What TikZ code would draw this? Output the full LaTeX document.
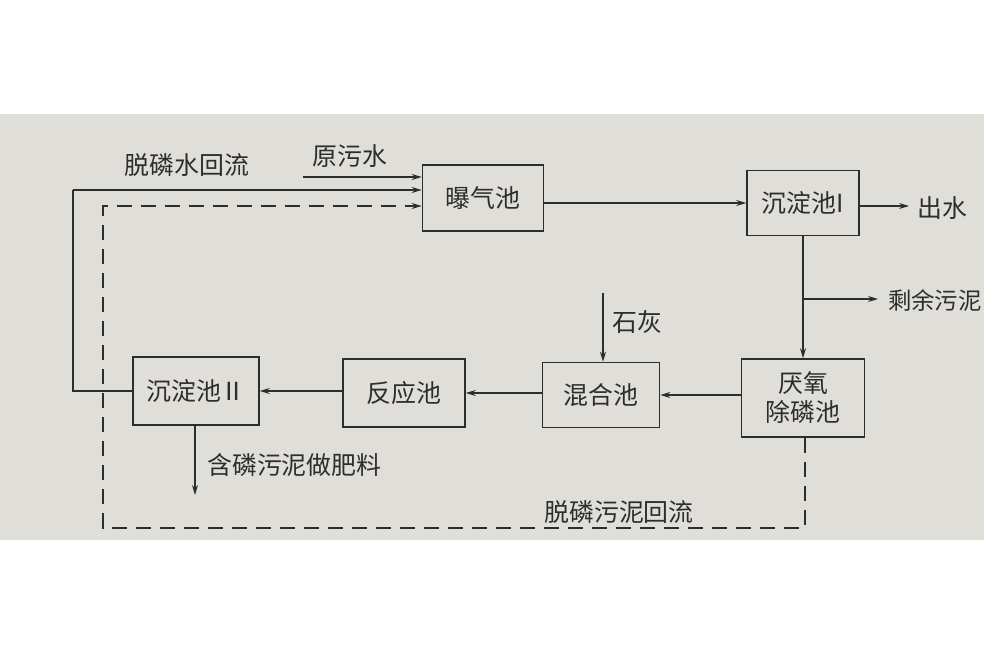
\documentclass[tikz,border=0pt]{standalone}
\usepackage{fontspec}
\setmainfont{Noto Sans CJK SC}
\usetikzlibrary{arrows.meta}
\definecolor{paper}{RGB}{224,222,217}
\definecolor{ink}{RGB}{45,45,45}
\tikzset{
  pbox/.style={draw=ink, line width=1.6pt, minimum height=66bp, inner sep=0pt, font=\fontsize{25}{29}\selectfont, text=ink},
  lbl/.style={font=\fontsize{25}{29}\selectfont, text=ink, inner sep=0pt},
  flow/.style={draw=ink, line width=1.1pt, -{Stealth[length=10bp,width=6bp]}},
  plain/.style={draw=ink, line width=1.1pt},
  dline/.style={draw=ink, line width=1.3pt, dash pattern=on 15bp off 9bp}
}
\begin{document}
\begin{tikzpicture}[x=1bp,y=-1bp]
\useasboundingbox (0,0) rectangle (984,656);
\clip (0,0) rectangle (984,656);
\fill[paper] (0,114) rectangle (984,540);
% boxes
\node[pbox, minimum width=121bp] (bq) at (483,198) {曝气池};
\node[pbox, minimum width=112bp, minimum height=65bp] (cd1) at (803,203) {沉淀池I};
\node[pbox, minimum width=123bp, minimum height=78bp, align=center] (yy) at (803,398) {厌氧\\除磷池};
\node[pbox, minimum width=117bp, minimum height=65bp] (hh) at (601,395) {混合池};
\node[pbox, minimum width=122bp, minimum height=68bp] (fy) at (404,393) {反应池};
\node[pbox, minimum width=126bp, minimum height=68bp] (cd2) at (196,391) {沉淀池Ⅱ};
% labels
\node[lbl] (ysw) at (350,156) {原污水};
\node[lbl] (tlh) at (187,165) {脱磷水回流};
\node[lbl, anchor=west] (cs) at (917,208) {出水};
\node[lbl, anchor=east, font=\fontsize{23.5}{27}\selectfont] (sywn) at (982,300) {剩余污泥};
\node[lbl] (sh) at (637,322) {石灰};
\node[lbl, anchor=west] (hl) at (207,465) {含磷污泥做肥料};
\node[lbl] (tlwn) at (619,512) {脱磷污泥回流};
% coordinates
\coordinate (ysw0) at (303,177);
\coordinate (tl0) at (73,190);
\coordinate (tl1) at (73,391);
\coordinate (d0) at (103,206);
\coordinate (d1) at (103,528);
\coordinate (d2) at (805,528);
\coordinate (br) at (803,299);
\coordinate (sy) at (878,299);
\coordinate (cs1) at (909,206);
\coordinate (sh0) at (603,293);
\coordinate (hl1) at (195,495);
% connectors
\draw[flow] (ysw0) -- (ysw0 -| bq.west);
\draw[plain] (cd2.west) -- (tl1) -- (tl0);
\draw[flow] (tl0) -- (tl0 -| bq.west);
\draw[dline] (yy.south -| d2) -- (d2) -- (d1) -- (d0) -- ([xshift=-12bp]d0 -| bq.west);
\draw[flow] ([xshift=-12bp]d0 -| bq.west) -- (d0 -| bq.west);
\draw[flow] (bq.east |- cd1.west) -- (cd1.west);
\draw[flow] (cd1.east |- cs1) -- (cs1);
\draw[flow] (cd1.south) -- (yy.north);
\draw[flow] (br) -- (sy);
\draw[flow] (sh0) -- (sh0 |- hh.north);
\draw[flow] (yy.west |- hh.east) -- (hh.east);
\draw[flow] (hh.west |- fy.east) -- (fy.east);
\draw[flow] (fy.west |- cd2.east) -- (cd2.east);
\draw[flow] (cd2.south -| hl1) -- (hl1);
\end{tikzpicture}
\end{document}
